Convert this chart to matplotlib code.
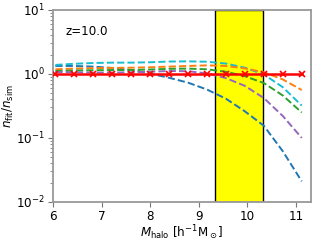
import numpy as np
import matplotlib
matplotlib.use("Agg")
import matplotlib.pyplot as plt

mass = [6.05, 6.44, 6.83, 7.22, 7.61, 8.0, 8.39, 8.78, 9.17, 9.56, 9.95, 10.34, 10.73, 11.12]
ratio_blue   = [1.33, 1.33, 1.30, 1.24, 1.15, 1.01, 0.87, 0.73, 0.57, 0.41, 0.26, 0.155, 0.062, 0.021]
ratio_cyan   = [1.38, 1.44, 1.48, 1.50, 1.50, 1.52, 1.56, 1.57, 1.55, 1.45, 1.25, 0.98, 0.62, 0.32]
ratio_orange = [1.18, 1.21, 1.23, 1.24, 1.25, 1.27, 1.30, 1.33, 1.36, 1.33, 1.22, 1.06, 0.82, 0.56]
ratio_green  = [1.11, 1.13, 1.14, 1.15, 1.15, 1.17, 1.20, 1.21, 1.18, 1.08, 0.92, 0.72, 0.46, 0.25]
ratio_purple = [1.07, 1.06, 1.05, 1.05, 1.06, 1.08, 1.11, 1.10, 1.02, 0.86, 0.65, 0.42, 0.22, 0.10]
ratio_ref    = [1.0] * 14
band = (9.33, 10.33)
redshift_label = "z=10.0"

fs = 8.6
fig = plt.figure(figsize=(3.17, 2.41), dpi=100)
ax = fig.add_axes([0.167, 0.162, 0.814, 0.797])

ax.axvspan(band[0], band[1], facecolor="yellow", edgecolor="k", lw=1.0, zorder=1)

for y, c in [(ratio_blue, "C0"), (ratio_cyan, "C9"), (ratio_orange, "C1"),
             (ratio_green, "C2"), (ratio_purple, "C4")]:
    ax.plot(mass, y, ls="--", color=c, lw=1.4, zorder=2)

ax.plot(mass, ratio_ref, color="red", marker="x", ms=4, lw=1.8, mew=1.2, zorder=3)

ax.set_yscale("log")
ax.set_ylim(1e-2, 1e1)
ax.set_xlim(6, 11.31)
ax.set_xticks([6, 7, 8, 9, 10, 11])

ax.text(0.05, 0.87, redshift_label, transform=ax.transAxes, fontsize=fs)
ax.set_xlabel(r"$M_{\rm halo}$ [h$^{-1}$M$_\odot$]", fontsize=fs, labelpad=0)
ax.set_ylabel(r"$n_{\rm fit}/n_{\rm sim}$", fontsize=fs, labelpad=0)

for s in ax.spines.values():
    s.set_color("#999999")
    s.set_linewidth(1.3)
ax.tick_params(which="both", color="#777777", labelsize=fs, pad=2.5)

fig.savefig("out.png", dpi=100)
